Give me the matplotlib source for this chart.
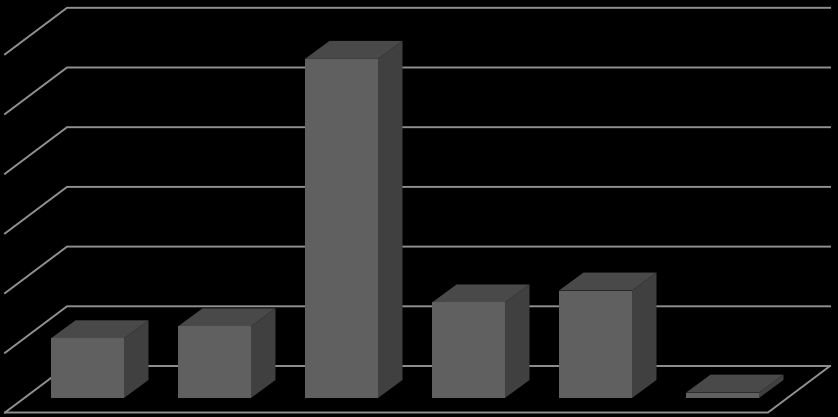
import matplotlib
matplotlib.use("Agg")
import matplotlib.pyplot as plt
from matplotlib.patches import Polygon

# values, gridlines every 10
categories = [0, 1, 2, 3, 4, 5]
values = [10, 12, 56.8, 16, 18, 0.9]
grid_values = [0, 10, 20, 30, 40, 50, 60]

c_px_per_cat = 127.0
c_px_per_val = 5.97
c_width = 73 / c_px_per_cat

# bar depth, and where the walls sit relative to the bars
c_depth_x = 24.5 / c_px_per_cat
c_depth_y = 18 / c_px_per_val
c_wall_y = 32 / c_px_per_val
c_wall_left = (67 - 87.5) / c_px_per_cat
c_wall_right = (830 - 87.5) / c_px_per_cat
c_floor_dx = 62 / c_px_per_cat
c_floor_dy = 46.5 / c_px_per_val

c_front = "#606060"
c_side = "#404040"
c_top = "#494949"
c_line = "#909090"

fig = plt.figure(figsize=(8.38, 4.17), dpi=100, facecolor="black")
ax = fig.add_axes([0, 0, 1, 1], facecolor="black")
ax.set_xlim(-87.5 / c_px_per_cat, (838 - 87.5) / c_px_per_cat)
ax.set_ylim(-19 / c_px_per_val, 398 / c_px_per_val)
ax.axis("off")

for g in grid_values:
    y = g + c_wall_y
    ax.plot([c_wall_left - c_floor_dx, c_wall_left, c_wall_right],
            [y - c_floor_dy, y, y],
            color=c_line, lw=1.4, zorder=1, solid_joinstyle="miter")

# front and right edges of the floor
floor_y = c_wall_y - c_floor_dy
ax.plot([c_wall_left - c_floor_dx, c_wall_right - c_floor_dx, c_wall_right],
        [floor_y, floor_y, c_wall_y],
        color=c_line, lw=1.4, zorder=1, solid_joinstyle="miter")

for cat, val in zip(categories, values):
    x0 = cat - c_width / 2
    x1 = cat + c_width / 2
    ax.add_patch(Polygon([(x1, 0), (x1 + c_depth_x, c_depth_y),
                          (x1 + c_depth_x, val + c_depth_y), (x1, val)],
                         facecolor=c_side, edgecolor="none", zorder=2))
    ax.add_patch(Polygon([(x0, val), (x0 + c_depth_x, val + c_depth_y),
                          (x1 + c_depth_x, val + c_depth_y), (x1, val)],
                         facecolor=c_top, edgecolor="none", zorder=2))
    ax.bar(cat, val, width=c_width, color=c_front, zorder=3)

fig.savefig("out.png", dpi=100, facecolor="black")
